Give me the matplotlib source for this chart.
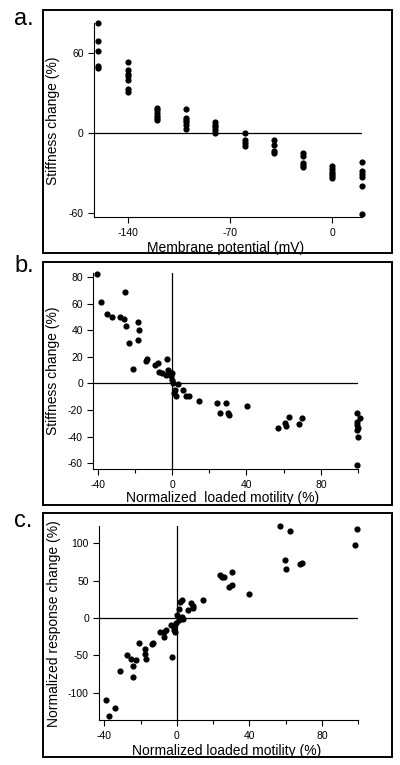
import matplotlib
matplotlib.use('Agg')
import matplotlib.pyplot as plt
from matplotlib.patches import Rectangle
from matplotlib.ticker import MultipleLocator

plt.rcParams['font.family'] = ['Liberation Sans', 'DejaVu Sans']
plt.rcParams['axes.unicode_minus'] = False

# --- a. stiffness change vs membrane potential
pot_a = [-160]*5 + [-140]*7 + [-120]*6 + [-100]*6 + [-80]*5 + [-60]*4 + [-40]*4 + [-20]*5 + [0]*6 + [20]*6
stiff_a = [82.5, 69, 61.5, 50, 49,
           53, 47, 44.5, 42.5, 40, 33, 31,
           18.5, 17, 15, 13, 11, 10,
           18, 11, 9.5, 8, 6, 3,
           8, 6, 4.5, 2, 0,
           0, -5.5, -7.5, -10,
           -5.5, -9, -13.5, -15,
           -15, -17, -22.5, -24, -25.5,
           -25, -27, -29, -30.5, -32, -34,
           -22, -28.5, -30.5, -33, -40, -61]

# --- b. stiffness change vs normalized loaded motility
mot_b = [-40.2, -38.4, -34.8, -32.1, -28.2, -25.8, -25.3, -24.6, -23.1, -21.3,
         -18.1, -17.8, -18.1, -14.2, -13.3, -9.3, -7.4, -7.0, -5.6, -3.4,
         -2.9, -2.0, -1.3, -0.7, -0.2, 0.2, 0.5, 1.1, 1.6, 2.3,
         3.4, 5.9, 7.7, 9.1, 14.5, 24.4, 25.7, 28.9, 30.0, 30.7,
         40.2, 57.2, 60.8, 61.2, 63.0, 68.3, 69.8, 99.7, 101.2, 99.7,
         99.7, 100.1, 99.7, 100.1, 99.7]
stiff_b = [82, 61.3, 52.5, 50, 50, 48.8, 68.8, 43, 30.5, 10.5,
           46.3, 40, 32.5, 17, 18, 13.8, 15, 8.8, 8, 6.3,
           18, 10, 8, 5.5, 7.5, 2.5, 0.5, -7.5, -5, -9.5,
           -0.5, -5, -9.3, -9.3, -13.3, -15, -22.5, -15, -22.5, -23.8,
           -16.8, -33.8, -30, -31.8, -25.5, -30.8, -25.8, -22.5, -26.3, -28.8,
           -31.3, -33.8, -35, -40.5, -61.3]

# --- c. normalized response change vs normalized loaded motility
mot_c = [-39.1, -37.5, -33.9, -31.5, -27.4, -25.2, -24.3, -24.0, -22.5, -21.1,
         -17.7, -17.7, -17.1, -13.5, -13.0, -9.4, -7.2, -7.2, -5.9, -3.1,
         -2.5, -1.8, -1.4, -0.9, -0.4, 0.0, 0.9, 1.4, 1.8, 2.7,
         2.7, 3.6, 6.3, 7.6, 8.6, 9.0, 14.4, 23.8, 24.9, 25.8,
         28.8, 30.1, 30.3, 39.6, 56.8, 59.8, 60.2, 62.2, 67.6, 69.0,
         98.2, 99.5]
resp_c = [-109.4, -131.3, -120.5, -71.4, -50, -54.5, -79, -64.7, -56.7, -33,
          -42, -47.8, -54.5, -34.4, -33, -18.8, -18.8, -25.4, -15.6, -8.9,
          -52.2, -16.5, -12, -18.8, -6.3, 3.6, 12.5, -3.1, 21.4, 24.6,
          1.3, -0.9, 11.2, 20.5, 16.1, 13.4, 24.6, 58, 54.9, 54.9,
          41.5, 61.6, 44.6, 32.6, 123.2, 78.1, 65.2, 116, 72.8, 73.7,
          98.2, 119.6]

W, H = 400, 765
fig = plt.figure(figsize=(W/100, H/100), dpi=100)

def px_axes(l, r, t, b):
    return fig.add_axes([l/W, 1-b/H, (r-l)/W, (b-t)/H])

def style(ax):
    ax.spines['top'].set_visible(False)
    ax.spines['right'].set_visible(False)
    for s in ('left', 'bottom'):
        ax.spines[s].set_linewidth(0.8)
    ax.tick_params(direction='out', length=4.5, width=0.8, labelsize=7.5)
    ax.tick_params(axis='x', pad=3.5)
    ax.tick_params(axis='y', pad=3)
    ax.tick_params(which='minor', direction='out', length=3, width=0.8)

def box(t, b):
    fig.patches.append(Rectangle((43/W, 1-b/H), (391.7-43)/W, (b-t)/H,
                                 transform=fig.transFigure, fill=False,
                                 edgecolor='black', linewidth=1.4))

dot = dict(color='black', s=20, linewidths=0, clip_on=False, zorder=3)

# panel a
ax = px_axes(94, 362, 23, 217)
ax.scatter(pot_a, stiff_a, **dot)
ax.axhline(0, color='black', lw=0.9)
ax.set_xlim(-163, 20.3)
ax.set_ylim(-63, 82.5)
ax.set_xticks([-140, -70, 0])
ax.set_yticks([-60, 0, 60])
style(ax)
box(10, 253)
fig.text(53/W, 1-121/H, 'Stiffness change (%)', rotation=90, ha='center', va='center', fontsize=10)
fig.text(226/W, 1-248/H, 'Membrane potential (mV)', ha='center', va='center', fontsize=10)
fig.text(14/W, 1-19/H, 'a.', ha='left', va='center', fontsize=17)

# panel b
ax = px_axes(93.3, 358, 273, 469)
ax.scatter(mot_b, stiff_b, **dot)
ax.axhline(0, color='black', lw=0.9)
ax.axvline(0, color='black', lw=0.9)
ax.set_xlim(-42.4, 100)
ax.set_ylim(-64.3, 83)
ax.set_xticks([-40, 0, 40, 80])
ax.xaxis.set_minor_locator(MultipleLocator(20))
ax.set_yticks(range(-60, 81, 20))
style(ax)
box(262, 505)
fig.text(53/W, 1-371/H, 'Stiffness change (%)', rotation=90, ha='center', va='center', fontsize=10)
fig.text(223/W, 1-498/H, 'Normalized  loaded motility (%)', ha='center', va='center', fontsize=10)
fig.text(14/W, 1-266/H, 'b.', ha='left', va='center', fontsize=17)

# panel c
ax = px_axes(99.3, 358.3, 525.7, 720)
ax.scatter(mot_c, resp_c, **dot)
ax.axhline(0, color='black', lw=0.9)
ax.axvline(0, color='black', lw=0.9)
ax.set_xlim(-42.8, 100)
ax.set_ylim(-136.6, 123.6)
ax.set_xticks([-40, 0, 40, 80])
ax.xaxis.set_minor_locator(MultipleLocator(20))
ax.set_yticks([-100, -50, 0, 50, 100])
style(ax)
box(512.7, 757)
fig.text(54/W, 1-624/H, 'Normalized response change (%)', rotation=90, ha='center', va='center', fontsize=10)
fig.text(227/W, 1-751/H, 'Normalized loaded motility (%)', ha='center', va='center', fontsize=10)
fig.text(14/W, 1-521/H, 'c.', ha='left', va='center', fontsize=17)

fig.savefig('out.png', dpi=100)
